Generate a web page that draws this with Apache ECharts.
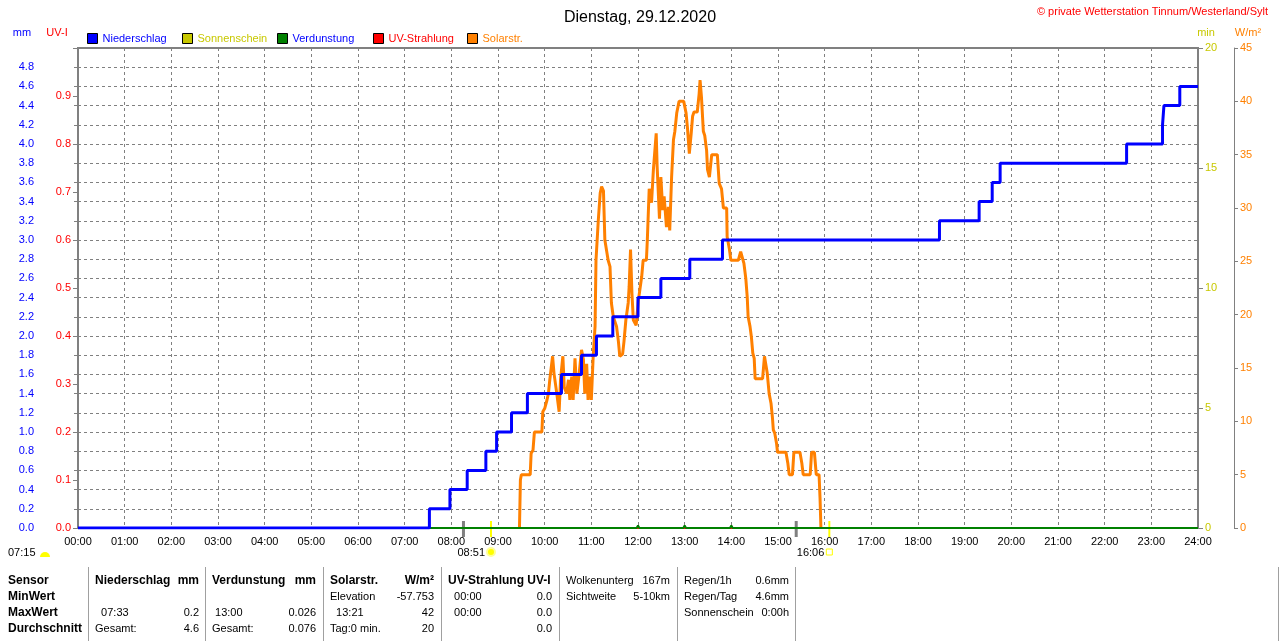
<!DOCTYPE html>
<html><head><meta charset="utf-8">
<script src="https://cdn.jsdelivr.net/npm/echarts@6/dist/echarts.min.js"></script>
<style>html,body{margin:0;padding:0;background:#fff}#c{width:1280px;height:641px}</style>
</head><body><div id="c"></div>
<script>
// ---------- data ----------
const hourLabels = ['00:00','01:00','02:00','03:00','04:00','05:00','06:00','07:00','08:00','09:00','10:00','11:00','12:00','13:00','14:00','15:00','16:00','17:00','18:00','19:00','20:00','21:00','22:00','23:00','24:00'];

// Niederschlag (cumulative mm), hour of change
const rainTimes  = [0, 7.53, 7.97, 8.34, 8.74, 8.97, 9.29, 9.63, 10.36, 10.79, 11.11, 11.46, 12.00, 12.49, 13.11, 13.81, 18.46, 19.31, 19.59, 19.76, 22.47, 23.24, 23.27, 23.61, 24];
const rainValues = [0, 0.2, 0.4, 0.6, 0.8, 1.0, 1.2, 1.4, 1.6, 1.8, 2.0, 2.2, 2.4, 2.6, 2.8, 3.0, 3.2, 3.4, 3.6, 3.8, 4.0, 4.2, 4.4, 4.6, 4.6];

// Solarstrahlung W/m² (daylight part; zero otherwise)
const solarTimes = [9.46, 9.48, 9.50, 9.69, 9.71, 9.75, 9.78, 9.94, 9.96, 10.00, 10.05, 10.08, 10.11, 10.17, 10.20, 10.26, 10.31, 10.34, 10.39, 10.42, 10.47, 10.51, 10.54, 10.58, 10.61, 10.65, 10.69, 10.74, 10.79, 10.83, 10.86, 10.90, 10.93, 10.97, 11.00, 11.04, 11.08, 11.10, 11.15, 11.19, 11.22, 11.26, 11.29, 11.36, 11.40, 11.43, 11.47, 11.54, 11.58, 11.61, 11.67, 11.70, 11.74, 11.79, 11.81, 11.84, 11.87, 11.90, 11.96, 12.01, 12.08, 12.11, 12.18, 12.20, 12.24, 12.29, 12.33, 12.39, 12.41, 12.46, 12.49, 12.53, 12.56, 12.61, 12.65, 12.68, 12.72, 12.76, 12.79, 12.83, 12.88, 12.98, 13.03, 13.06, 13.10, 13.14, 13.17, 13.20, 13.27, 13.31, 13.33, 13.36, 13.40, 13.43, 13.47, 13.49, 13.53, 13.56, 13.58, 13.70, 13.74, 13.79, 13.83, 13.90, 13.91, 13.96, 13.99, 14.15, 14.20, 14.24, 14.27, 14.31, 14.34, 14.36, 14.40, 14.43, 14.46, 14.49, 14.51, 14.67, 14.71, 14.74, 14.77, 14.81, 14.85, 14.88, 14.90, 14.93, 14.97, 14.99, 15.17, 15.21, 15.24, 15.31, 15.34, 15.47, 15.51, 15.54, 15.69, 15.72, 15.78, 15.82, 15.88, 15.90, 15.92];
const solarValues = [0, 4.5, 5.0, 5.0, 7.0, 7.3, 9.0, 9.0, 10.9, 11.2, 12.0, 12.6, 13.9, 16.1, 14.5, 12.6, 10.9, 13.9, 16.1, 13.2, 12.6, 13.9, 12.0, 14.2, 12.0, 15.9, 12.6, 14.5, 16.7, 15.8, 12.6, 15.4, 12.0, 14.2, 12.0, 16.1, 18.9, 25.1, 28.9, 31.4, 32.0, 31.6, 27.0, 25.1, 24.5, 21.1, 19.8, 18.9, 17.5, 16.1, 16.3, 17.5, 19.5, 21.1, 22.6, 26.1, 22.0, 19.5, 19.0, 21.4, 23.6, 25.1, 25.1, 27.0, 31.8, 30.5, 33.6, 37.0, 33.9, 29.0, 32.9, 29.8, 31.1, 28.2, 30.1, 27.9, 32.9, 36.4, 37.2, 38.9, 40.0, 40.0, 38.9, 37.5, 35.1, 37.0, 38.6, 39.0, 39.0, 40.7, 42.0, 40.4, 37.2, 36.8, 35.4, 33.6, 32.9, 32.9, 35.0, 35.0, 32.3, 31.8, 30.0, 30.0, 27.3, 26.1, 25.1, 25.1, 25.9, 25.9, 24.8, 23.4, 21.7, 19.8, 18.9, 17.9, 16.4, 15.9, 14.0, 14.0, 16.1, 16.1, 14.5, 12.6, 11.7, 10.4, 9.2, 8.9, 7.9, 7.1, 7.1, 6.1, 5.0, 5.0, 7.1, 7.1, 6.1, 5.0, 5.0, 7.1, 7.1, 5.0, 5.0, 2.9, 0];

// Verdunstung mm
const evapTimes  = [0, 11.97, 12.00, 12.03, 12.97, 13.00, 13.03, 13.97, 14.00, 14.03, 24];
const evapValues = [0, 0, 0.025, 0, 0, 0.026, 0, 0, 0.025, 0, 0];

// UV-Strahlung UV-I and Sonnenschein min
const uvTimes = [0, 24];
const uvValues = [0, 0];
const sunTimes = [0, 24];
const sunValues = [0, 0];

// Sun events (hours)
const dawnHour = 8.26, sunriseHour = 8.85, duskHour = 15.39, sunsetHour = 16.10;
const sunriseLabel = '08:51', sunsetLabel = '16:06', moonLabel = '07:15';

// Legend entries
const legendNames = ['Niederschlag','Sonnenschein','Verdunstung','UV-Strahlung','Solarstr.'];

// Table texts
const tableHeader = ['Sensor','Niederschlag','mm','Verdunstung','mm','Solarstr.','W/m²','UV-Strahlung UV-I',''];
const tableMin = ['MinWert','','','','','Elevation','-57.753','  00:00','0.0'];
const tableMax = ['MaxWert','  07:33','0.2',' 13:00','0.026','  13:21','42','  00:00','0.0'];
const tableAvg = ['Durchschnitt','Gesamt:','4.6','Gesamt:','0.076','Tag:0 min.','20','','0.0'];
const infoA = [['Wolkenunterg','167m'],['Sichtweite','5-10km']];
const infoB = [['Regen/1h','0.6mm'],['Regen/Tag','4.6mm'],['Sonnenschein','0:00h']];

// ---------- chart ----------
const FONT = '"Liberation Sans", Arial, sans-serif';
const pair = (t, v) => t.map((x, i) => [x, v[i]]);
const C = {blue:'#0000ff', yellow:'#c8c800', green:'#008000', red:'#ff0000', orange:'#ff8000', grid:'#808080'};
const legendColors = [C.blue, C.yellow, C.blue, C.red, C.orange];
const legendLeft = [87, 182, 277, 373, 467];

const chart = echarts.init(document.getElementById('c'));
const option = {
  animation: false,
  backgroundColor: '#fff',
  textStyle: {fontFamily: FONT},
  title: {text: 'Dienstag, 29.12.2020', left: 'center', top: 5,
    textStyle: {fontSize: 16, fontWeight: 'normal', color: '#000', fontFamily: FONT}},
  legend: legendNames.map((n, i) => ({
    left: legendLeft[i], top: 33, itemWidth: 10, itemHeight: 10, itemGap: 4, icon: 'rect', padding: 0,
    itemStyle: {borderColor: '#000', borderWidth: 1},
    textStyle: {fontSize: 11, fontFamily: FONT, color: legendColors[i]},
    data: [n]
  })),
  grid: {left: 78, right: 82, top: 48, bottom: 113, show: true, borderColor: C.grid, borderWidth: 2},
  xAxis: {
    type: 'value', min: 0, max: 24, interval: 1,
    axisLine: {show: true, lineStyle: {color: C.grid, width: 2}},
    axisTick: {show: false},
    axisLabel: {color: '#000', fontSize: 11, margin: 8, fontFamily: FONT, formatter: v => hourLabels[Math.round(v)]},
    splitLine: {show: true, lineStyle: {color: C.grid, type: [3, 3], width: 1}}
  },
  yAxis: [
    {type: 'value', position: 'left', offset: 38, min: 0, max: 5, interval: 0.2,
      axisLine: {show: true, lineStyle: {color: C.grid, width: 1}},
      axisTick: {show: true, length: 4, lineStyle: {color: C.grid}},
      axisLabel: {color: C.blue, fontSize: 11, margin: 6, fontFamily: FONT, formatter: v => v > 4.85 ? '' : v.toFixed(1)},
      splitLine: {show: true, lineStyle: {color: C.grid, type: [3, 3], width: 1}}},
    {type: 'value', position: 'left', offset: 0, min: 0, max: 1, interval: 0.1,
      axisLine: {show: true, lineStyle: {color: C.grid, width: 2}},
      axisTick: {show: true, length: 5, lineStyle: {color: C.grid}},
      axisLabel: {color: C.red, fontSize: 11, margin: 7, fontFamily: FONT, formatter: v => v > 0.95 ? '' : v.toFixed(1)},
      splitLine: {show: false}},
    {type: 'value', position: 'right', offset: 0, min: 0, max: 20, interval: 5,
      axisLine: {show: true, lineStyle: {color: C.grid, width: 2}},
      axisTick: {show: true, length: 5, lineStyle: {color: C.grid}},
      axisLabel: {color: C.yellow, fontSize: 11, margin: 7, fontFamily: FONT},
      splitLine: {show: false}},
    {type: 'value', position: 'right', offset: 36, min: 0, max: 45, interval: 5,
      axisLine: {show: true, lineStyle: {color: C.grid, width: 1}},
      axisTick: {show: true, length: 4, lineStyle: {color: C.grid}},
      axisLabel: {color: C.orange, fontSize: 11, margin: 6, fontFamily: FONT},
      splitLine: {show: false}}
  ],
  series: [
    {name: 'Sonnenschein', type: 'line', yAxisIndex: 2, data: pair(sunTimes, sunValues), color: C.yellow, symbol: 'none', lineStyle: {width: 2}},
    {name: 'UV-Strahlung', type: 'line', yAxisIndex: 1, data: pair(uvTimes, uvValues), color: C.red, symbol: 'none', lineStyle: {width: 2}},
    {name: 'Solarstr.', type: 'line', yAxisIndex: 3, data: pair(solarTimes, solarValues), color: C.orange, symbol: 'none', lineStyle: {width: 3}},
    {name: 'Verdunstung', type: 'line', yAxisIndex: 0, data: pair(evapTimes, evapValues), color: C.green, symbol: 'none', lineStyle: {width: 2}},
    {name: 'Niederschlag', type: 'line', step: 'end', yAxisIndex: 0, data: pair(rainTimes, rainValues), color: C.blue, symbol: 'none', lineStyle: {width: 3}}
  ]
};
chart.setOption(option);

// ---------- graphics: units, copyright, sun events, table ----------
function txt(text, x, y, color, align, bold, size) {
  return {type: 'text', x: x, y: y, silent: true,
    style: {text: text, fill: color || '#000', align: align || 'left', verticalAlign: 'middle',
      fontSize: size || 11, fontFamily: FONT, fontWeight: bold ? 'bold' : 'normal'}};
}
const px = h => chart.convertToPixel({xAxisIndex: 0}, h);
const g = [];
g.push(txt('© private Wetterstation Tinnum/Westerland/Sylt', 1268, 12, C.red, 'right'));
g.push(txt('mm', 22, 33, C.blue, 'center'));
g.push(txt('UV-I', 57, 33, C.red, 'center'));
g.push(txt('min', 1206, 33, C.yellow, 'center'));
g.push(txt('W/m²', 1248, 33, C.orange, 'center'));

// event ticks
[[dawnHour, '#808080', 3], [sunriseHour, '#ffff00', 2], [duskHour, '#808080', 3], [sunsetHour, '#ffff00', 2]].forEach(e => {
  const x = px(e[0]);
  g.push({type: 'rect', silent: true, shape: {x: x - e[2] / 2, y: 521, width: e[2], height: 16}, style: {fill: e[1]}});
});
const xr = px(sunriseHour), xs = px(sunsetHour);
g.push(txt(sunriseLabel, xr - 6, 553, '#000', 'right'));
g.push({type: 'circle', silent: true, shape: {cx: xr, cy: 552, r: 4}, style: {fill: '#ffff00', stroke: '#ffff99', lineWidth: 2}});
g.push(txt(sunsetLabel, xs - 5, 553, '#000', 'right'));
g.push({type: 'rect', silent: true, shape: {x: xs - 3, y: 549, width: 6, height: 6}, style: {fill: 'none', stroke: '#ffff00', lineWidth: 1}});
g.push(txt(moonLabel, 8, 553, '#000', 'left'));
g.push({type: 'sector', silent: true, shape: {cx: 45, cy: 557, r: 5, r0: 0, startAngle: Math.PI, endAngle: Math.PI * 2}, style: {fill: '#ffff00'}});

// table
const colX = [8, 95, 199, 212, 316, 330, 434, 448, 552];
const colA = ['left','left','right','left','right','left','right','left','right'];
const rowY = [581, 597, 613, 629];
[tableHeader, tableMin, tableMax, tableAvg].forEach((row, r) => {
  row.forEach((t, c) => {
    if (!t) return;
    const bold = r === 0 || c === 0;
    g.push(txt(t, colX[c], rowY[r], '#000', colA[c], bold, bold ? 12 : 11));
  });
});
infoA.forEach((p, r) => { g.push(txt(p[0], 566, rowY[r], '#000', 'left')); g.push(txt(p[1], 670, rowY[r], '#000', 'right')); });
infoB.forEach((p, r) => { g.push(txt(p[0], 684, rowY[r], '#000', 'left')); g.push(txt(p[1], 789, rowY[r], '#000', 'right')); });
[88, 205, 323, 441, 559, 677, 795, 1278].forEach(x => {
  g.push({type: 'line', silent: true, shape: {x1: x + 0.5, y1: 567, x2: x + 0.5, y2: 641}, style: {stroke: '#a0a0a0', lineWidth: 1}});
});
chart.setOption({graphic: g});
</script></body></html>
